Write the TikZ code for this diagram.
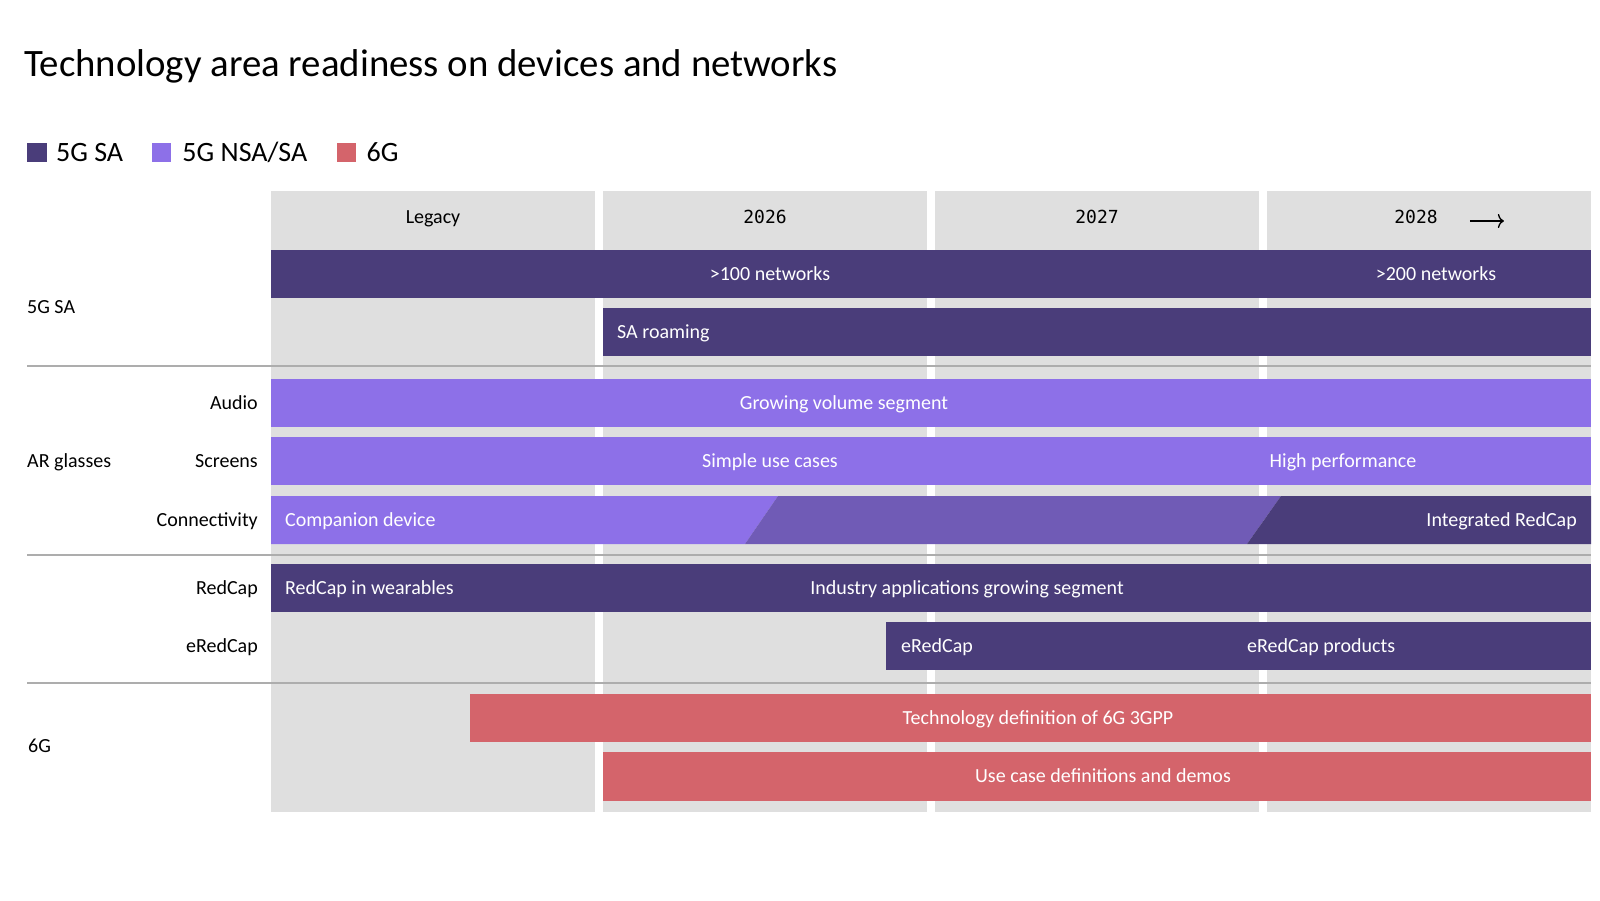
\documentclass[tikz,border=0pt]{standalone}
\usepackage{fontspec}
\setmainfont{Carlito}
\newfontfamily\yearfont{DejaVu Sans Mono}
\usepackage{tikz}
\usetikzlibrary{arrows}
\usetikzlibrary{arrows.meta}
\usetikzlibrary{positioning}
\definecolor{saDark}{HTML}{4A3D7A}
\definecolor{nsaLight}{HTML}{8D70E8}
\definecolor{midPurple}{HTML}{705BB6}
\definecolor{sixG}{HTML}{D4646B}
\definecolor{colGray}{HTML}{DFDFDF}
\definecolor{sepGray}{HTML}{ADADAD}

\begin{document}
\begin{tikzpicture}[x=1pt, y=-1pt, font=\fontsize{20}{24}\selectfont]
  \tikzstyle{lbl}=[text=white, inner sep=0pt, text height=13pt, text depth=0pt]
  \tikzstyle{rowlbl}=[text=black, inner sep=0pt, text height=13pt, text depth=0pt]
  \tikzstyle{yr}=[text=black, inner sep=0pt, text height=13pt, text depth=0pt]
  \tikzstyle{legbox}=[minimum size=19.5pt, inner sep=0pt]
  \tikzstyle{legtxt}=[inner sep=0pt, font=\fontsize{28}{30}\selectfont, text height=18pt, text depth=0pt]
  \tikzstyle{sep}=[draw=sepGray, line width=1.5pt]

  \useasboundingbox (0,0) rectangle (1600,900);
  \fill[white] (0,0) rectangle (1600,900);

  \node[anchor=base west, inner sep=0pt, font=\fontsize{38.8}{42}\selectfont] (title) at (24,76) {Technology area readiness on devices and networks};

  \node[legbox, fill=saDark] (k1) at (37,152.5) {};
  \node[legtxt, right=9pt of k1] (t1) {5G SA};
  \node[legbox, fill=nsaLight, right=28pt of t1] (k2) {};
  \node[legtxt, right=11pt of k2] (t2) {5G NSA/SA};
  \node[legbox, fill=sixG, right=29pt of t2] (k3) {};
  \node[legtxt, right=10pt of k3] (t3) {6G};

  \foreach \xl in {271,603,935,1267}
    \fill[colGray] (\xl,191) rectangle ++(324,621);

  \node[yr] (hLeg) at (433,217) {Legacy};
  \node[yr, font=\yearfont\fontsize{18}{20}\selectfont] (h26) at (765,217) {2026};
  \node[yr, font=\yearfont\fontsize{18}{20}\selectfont] (h27) at (1097,217) {2027};
  \node[yr, font=\yearfont\fontsize{18}{20}\selectfont] (h28) at (1416,217) {2028};
  \coordinate[right=32pt of h28.east, yshift=-4pt] (a0);
  \coordinate[right=34pt of a0] (a1);
  \draw[-{To[length=6pt, width=14pt]}, line width=1.3pt] (a0) -- (a1);

  \fill[saDark] (271,250) rectangle (1591,298);
  \fill[saDark] (603,308) rectangle (1591,356);
  \node[lbl] (n100) at (770,274) {>100 networks};
  \node[lbl] (n200) at (1436,274) {>200 networks};
  \node[lbl, anchor=west] (roam) at (617,332) {SA roaming};
  \node[rowlbl, anchor=west] (rSA) at (27,307) {5G SA};
  \draw[sep] (27,366) -- (1591,366);

  \fill[nsaLight] (271,379) rectangle (1591,427);
  \fill[nsaLight] (271,437) rectangle (1591,485);
  \fill[nsaLight] (271,496) -- (778,496) -- (745,544) -- (271,544) -- cycle;
  \fill[midPurple] (778,496) -- (1281,496) -- (1247,544) -- (745,544) -- cycle;
  \fill[saDark] (1281,496) -- (1591,496) -- (1591,544) -- (1247,544) -- cycle;
  \node[lbl] (grow) at (844,403) {Growing volume segment};
  \node[lbl] (simple) at (770,461) {Simple use cases};
  \node[lbl] (high) at (1343,461) {High performance};
  \node[lbl, anchor=west] (comp) at (285,520) {Companion device};
  \node[lbl, anchor=east] (integ) at (1577,520) {Integrated RedCap};
  \node[rowlbl, anchor=east] (rAudio) at (258,403) {Audio};
  \node[rowlbl, anchor=east] (rScreen) at (258,461) {Screens};
  \node[rowlbl, anchor=east] (rConn) at (258,520) {Connectivity};
  \node[rowlbl, anchor=west] (rAR) at (27,461) {AR glasses};
  \draw[sep] (27,555) -- (1591,555);

  \fill[saDark] (271,564) rectangle (1591,612);
  \fill[saDark] (886,622) rectangle (1591,670);
  \node[lbl, anchor=west] (wear) at (285,588) {RedCap in wearables};
  \node[lbl] (indus) at (967,588) {Industry applications growing segment};
  \node[lbl, anchor=west] (ered) at (901,646) {eRedCap};
  \node[lbl, anchor=west] (eprod) at (1247,646) {eRedCap products};
  \node[rowlbl, anchor=east] (rRed) at (258,588) {RedCap};
  \node[rowlbl, anchor=east] (rERed) at (258,646) {eRedCap};
  \draw[sep] (27,683) -- (1591,683);

  \fill[sixG] (470,694) rectangle (1591,742);
  \fill[sixG] (603,752) rectangle (1591,801);
  \node[lbl] (tdef) at (1038,718) {Technology definition of 6G 3GPP};
  \node[lbl] (ucase) at (1103,776) {Use case definitions and demos};
  \node[rowlbl, anchor=west] (r6G) at (28,746) {6G};
\end{tikzpicture}
\end{document}
